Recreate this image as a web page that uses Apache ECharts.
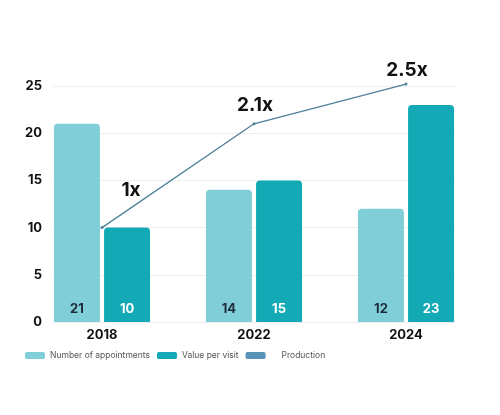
<!DOCTYPE html>
<html>
<head>
<meta charset="utf-8">
<script src="https://cdn.jsdelivr.net/npm/echarts@6/dist/echarts.min.js"></script>
<style>
  html, body { margin: 0; padding: 0; background: #fff; }
  #chart { width: 500px; height: 415px; }
</style>
</head>
<body>
<div id="chart"></div>
<script>
var years = ['2018', '2022', '2024'];
var appointments = [21, 14, 12];
var valuePerVisit = [10, 15, 23];
var production = [10, 21, 25.2];
var productionLabels = ['1x', '2.1x', '2.5x'];
var yTicks = [0, 5, 10, 15, 20, 25];

// where each growth label sits relative to its point
var labelOffsets = [[29, -20], [1, -1], [1, 3]];

var font = 'Inter, "Noto Sans", sans-serif';

var prodData = production.map(function (v, i) {
  return { value: v, label: { offset: labelOffsets[i] } };
});

var myChart = echarts.init(document.getElementById('chart'));
myChart.setOption({
  animation: false,
  textStyle: { fontFamily: font },
  legend: {
    bottom: 50,
    left: 20,
    itemWidth: 20,
    itemHeight: 7,
    itemGap: 7,
    icon: 'roundRect',
    textStyle: { fontSize: 8.5, color: '#555', fontFamily: font },
    data: [
      'Number of appointments',
      'Value per visit',
      { name: 'Production', itemStyle: { color: '#5b93b8' }, textStyle: { padding: [0, 0, 0, 11] } }
    ]
  },
  grid: [
    // grid for the y axis and its split lines
    { left: 53, right: 45, top: 86, bottom: 93 },
    // grid for the bars, wider so the groups sit where the picture has them
    { left: 26, right: 18, top: 86, bottom: 93 }
  ],
  xAxis: [
    { type: 'category', gridIndex: 0, data: years, show: false },
    {
      type: 'category', gridIndex: 1, data: years,
      axisLine: { show: false }, axisTick: { show: false },
      axisLabel: { fontSize: 13, fontWeight: 'bold', color: '#111', margin: 7 }
    }
  ],
  yAxis: [
    {
      type: 'value', gridIndex: 0, min: yTicks[0], max: yTicks[yTicks.length - 1], interval: 5,
      axisLine: { show: false }, axisTick: { show: false },
      axisLabel: { fontSize: 13, fontWeight: 'bold', color: '#111', margin: 11 },
      splitLine: { lineStyle: { color: '#eeeeee', width: 1 } }
    },
    {
      type: 'value', gridIndex: 1, min: 0, max: 25, interval: 5, show: false,
      splitLine: { show: false }
    }
  ],
  series: [
    {
      name: 'Number of appointments', type: 'bar',
      xAxisIndex: 1, yAxisIndex: 1,
      data: appointments, barWidth: 46, barGap: '9%',
      itemStyle: { color: '#80cfd8', borderRadius: [4, 4, 0, 0] },
      label: {
        show: true, position: 'insideBottom', distance: 6,
        fontSize: 13, fontWeight: 'bold', color: '#1c2b38'
      }
    },
    {
      name: 'Value per visit', type: 'bar',
      xAxisIndex: 1, yAxisIndex: 1,
      data: valuePerVisit, barWidth: 46,
      itemStyle: { color: '#13a9b5', borderRadius: [4, 4, 0, 0] },
      label: {
        show: true, position: 'insideBottom', distance: 6,
        fontSize: 13, fontWeight: 'bold', color: '#ffffff'
      }
    },
    {
      name: 'Production', type: 'line',
      xAxisIndex: 1, yAxisIndex: 1,
      data: prodData,
      clip: false,
      symbol: 'circle', symbolSize: 3,
      lineStyle: { color: '#4f8199', width: 1.3 },
      itemStyle: { color: '#4f8199' },
      z: 5,
      label: {
        show: true, position: 'top', distance: 6,
        fontSize: 19, fontWeight: 'bold', color: '#111',
        formatter: function (p) { return productionLabels[p.dataIndex]; }
      }
    }
  ]
});
</script>
</body>
</html>
